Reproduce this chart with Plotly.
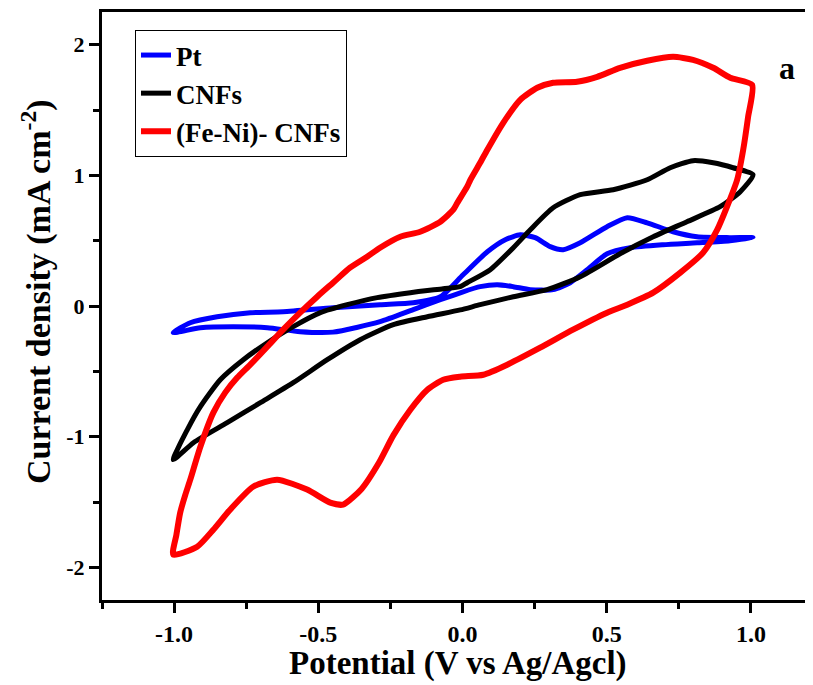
import plotly.graph_objects as go

# Pt (blue) closed CV loop: anodic then cathodic sweep
pt_v = [-1.003, -0.944, -0.851, -0.736, -0.622, -0.449, -0.286, -0.171, -0.077, 0.002, 0.086, 0.148, 0.200,
        0.252, 0.304, 0.349, 0.408, 0.501, 0.571, 0.640, 0.730, 0.813, 0.927, 1.007,
        0.927, 0.813, 0.695, 0.581, 0.501, 0.432, 0.373, 0.314, 0.235, 0.176, 0.120, 0.061, 0.002,
        -0.077, -0.171, -0.286, -0.449, -0.563, -0.677, -0.795, -0.909, -1.003]
pt_j = [-0.204, -0.128, -0.082, -0.051, -0.044, -0.013, 0.010, 0.025, 0.071, 0.239, 0.415, 0.507, 0.545,
        0.523, 0.454, 0.431, 0.484, 0.607, 0.676, 0.637, 0.568, 0.530, 0.523, 0.523,
        0.500, 0.484, 0.469, 0.446, 0.400, 0.278, 0.178, 0.125, 0.125, 0.148, 0.163, 0.148, 0.109,
        0.048, -0.028, -0.120, -0.200, -0.197, -0.166, -0.158, -0.166, -0.204]

# CNFs (black)
cnf_v = [-1.003, -0.954, -0.909, -0.840, -0.760, -0.677, -0.587, -0.493, -0.400, -0.296, -0.181, -0.067, -0.008,
         0.016, 0.096, 0.176, 0.235, 0.314, 0.408, 0.522, 0.640, 0.720, 0.799, 0.869, 0.938, 1.007,
         0.962, 0.893, 0.778, 0.661, 0.546, 0.408, 0.293, 0.176, 0.061, -0.008, -0.122, -0.240, -0.355,
         -0.469, -0.587, -0.701, -0.816, -0.933, -1.003]
cnf_j = [-1.176, -0.946, -0.770, -0.564, -0.411, -0.281, -0.158, -0.051, 0.010, 0.064, 0.102, 0.132, 0.148,
         0.178, 0.278, 0.446, 0.584, 0.752, 0.852, 0.890, 0.966, 1.058, 1.112, 1.096, 1.058, 1.005,
         0.873, 0.760, 0.645, 0.530, 0.400, 0.224, 0.125, 0.071, 0.010, -0.030, -0.082, -0.143, -0.258,
         -0.411, -0.587, -0.740, -0.893, -1.046, -1.176]

# (Fe-Ni)- CNFs (red)
feni_v = [-1.003, -0.992, -0.979, -0.961, -0.944, -0.909, -0.864, -0.823, -0.781, -0.736, -0.677, -0.622,
          -0.563, -0.504, -0.449, -0.390, -0.331, -0.286, -0.216, -0.147, -0.077, -0.032, -0.018, 0.016,
          0.027, 0.061, 0.086, 0.141, 0.200, 0.259, 0.314, 0.397, 0.467, 0.546, 0.640, 0.730, 0.799,
          0.869, 0.928, 1.004,
          0.990, 0.973, 0.952, 0.917, 0.883, 0.834, 0.755, 0.661, 0.571, 0.501, 0.383, 0.269, 0.155,
          0.072, -0.008, -0.067, -0.122, -0.181, -0.240, -0.290, -0.350, -0.414, -0.459, -0.539, -0.643,
          -0.726, -0.806, -0.864, -0.920, -1.003]
feni_j = [-1.903, -1.750, -1.582, -1.444, -1.329, -1.077, -0.816, -0.663, -0.548, -0.449, -0.311, -0.181,
          -0.051, 0.071, 0.178, 0.293, 0.377, 0.446, 0.530, 0.568, 0.645, 0.737, 0.790, 0.913,
          0.966, 1.096, 1.196, 1.402, 1.578, 1.670, 1.708, 1.716, 1.754, 1.823, 1.877, 1.907, 1.884,
          1.823, 1.747, 1.693,
          1.448, 1.196, 0.966, 0.760, 0.584, 0.408, 0.255, 0.102, 0.010, -0.051, -0.181, -0.319, -0.449,
          -0.526, -0.541, -0.564, -0.641, -0.794, -0.990, -1.200, -1.400, -1.520, -1.505, -1.405, -1.329,
          -1.383, -1.559, -1.712, -1.842, -1.903]

x_ticks = [-1.0, -0.5, 0.0, 0.5, 1.0]
x_tick_labels = ["-1.0", "-0.5", "0.0", "0.5", "1.0"]
y_ticks = [-2, -1, 0, 1, 2]
y_tick_labels = ["-2", "-1", "0", "1", "2"]

FONT = "Liberation Serif"
OFF = 8  # page body margin
W, H = 813 - OFF, 685 - OFF
L, R, T = 102 - OFF, 0, 12 - OFF
PH = 588
B = H - T - PH
PW = W - L - R


def px_x(x):
    return (x - OFF - L) / PW


def px_y(y):
    return (T + PH - (y - OFF)) / PH


fig = go.Figure()
for name, xs, ys, col, w in [
    ("<b>Pt</b>", pt_v, pt_j, "#0000FF", 5),
    ("<b>CNFs</b>", cnf_v, cnf_j, "#000000", 5),
    ("<b>(Fe-Ni)- CNFs</b>", feni_v, feni_j, "#FF0000", 6),
]:
    fig.add_trace(go.Scatter(x=xs, y=ys, mode="lines", name=name,
                             line=dict(color=col, width=w, shape="spline", smoothing=0.6)))

fig.update_layout(
    width=W, height=H,
    margin=dict(l=L, r=R, t=T, b=B, autoexpand=False),
    paper_bgcolor="white", plot_bgcolor="white",
    font=dict(family=FONT, color="black"),
    showlegend=True,
    legend=dict(x=px_x(135), y=px_y(30), xanchor="left", yanchor="top",
                bordercolor="black", borderwidth=1, bgcolor="white",
                font=dict(family=FONT, size=27, color="black"),
                tracegroupgap=0),
    xaxis=dict(range=[-1.25, 1.215], showgrid=False, zeroline=False, automargin=False,
               showline=True, linecolor="black", linewidth=3, mirror=True,
               ticks="outside", ticklen=10, tickwidth=3, tickcolor="black",
               tickvals=x_ticks, ticktext=["<b>%s</b>" % t for t in x_tick_labels],
               tickfont=dict(family=FONT, size=24, color="black"),
               minor=dict(ticks="outside", ticklen=6, tickwidth=3, tickcolor="black", dtick=0.25, tick0=0)),
    yaxis=dict(range=[-2.25, 2.25], showgrid=False, zeroline=False, automargin=False,
               showline=True, linecolor="black", linewidth=3, mirror=False,
               ticks="outside", ticklen=10, tickwidth=3, tickcolor="black",
               tickvals=y_ticks, ticktext=["<b>%s</b>" % t for t in y_tick_labels],
               tickfont=dict(family=FONT, size=22, color="black"),
               minor=dict(ticks="outside", ticklen=6, tickwidth=3, tickcolor="black", dtick=0.5, tick0=0)),
    annotations=[
        dict(text="<b>a</b>", x=px_x(797), y=px_y(48), xref="paper", yref="paper",
             showarrow=False, font=dict(family=FONT, size=32, color="black")),
        dict(text="<b>Potential (V vs Ag/Agcl)</b>", x=px_x(458), y=px_y(663),
             xref="paper", yref="paper", showarrow=False, xanchor="center", yanchor="middle",
             font=dict(family=FONT, size=33, color="black")),
        dict(text="<b>Current density (mA cm<sup>-2</sup>)</b>", x=px_x(36), y=px_y(292),
             xref="paper", yref="paper", showarrow=False, xanchor="center", yanchor="middle",
             textangle=-90, font=dict(family=FONT, size=34, color="black")),
    ],
)

fig.write_html("out.html")
